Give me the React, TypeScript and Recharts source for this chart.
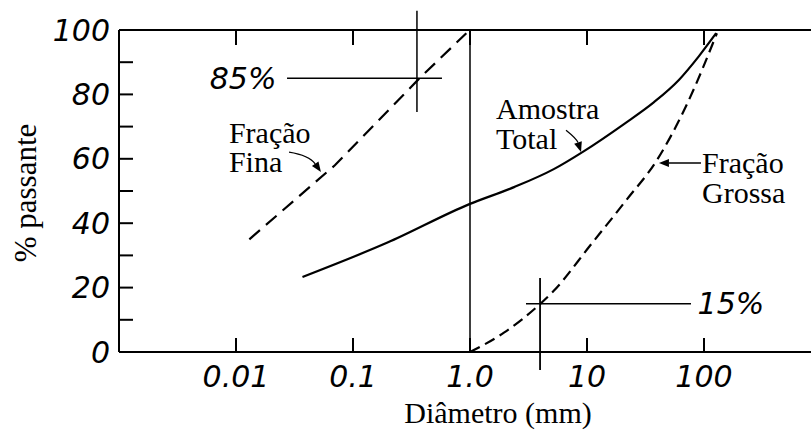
import { LineChart, Line, XAxis, YAxis, ReferenceLine, ReferenceDot } from 'recharts'

// axis ticks
const decadeTicks = [0.01, 0.1, 1, 10, 100]
const decadeLabels = ['0.01', '0.1', '1.0', '10', '100']
const percentTicks = [0, 10, 20, 30, 40, 50, 60, 70, 80, 90, 100]

// curves (diameter in mm, % passing)
const finaD = [0.013, 0.07, 0.37, 0.93]
const finaP = [35, 58, 85, 99]
const totalD = [0.037, 0.195, 1.0, 2.38, 5.2, 9.43, 20.7, 37.4, 61, 90.6, 127]
const totalP = [23.3, 33.9, 46, 51.2, 56.8, 62.4, 70.8, 77.6, 84.5, 91.9, 99]
const grossaD = [1.0, 1.95, 4.0, 5.2, 10.6, 21.5, 39.6, 71.6, 129]
const grossaP = [0, 6, 15, 19, 33, 47, 59.6, 77, 99]

const toRows = (d: number[], p: number[]) => d.map((v, i) => ({ d: v, p: p[i] }))
const fina = toRows(finaD, finaP)
const total = toRows(totalD, totalP)
const grossa = toRows(grossaD, grossaP)

const ink = '#000'
const hand = { fontFamily: '"DejaVu Sans", sans-serif', fontStyle: 'italic', fontSize: 30, fill: ink }
const serif = { fontFamily: '"Liberation Serif", "Times New Roman", serif', fontSize: 30, fill: ink }

const LeftTick = (props: any) => {
  const { x, y, payload } = props
  const v = payload.value
  return (
    <g>
      <line x1={x} y1={y} x2={x + 14} y2={y} stroke={ink} strokeWidth={2} />
      {v % 20 === 0 && (
        <text x={x - 9} y={y} textAnchor="end" dominantBaseline="central" style={hand}>{v}</text>
      )}
    </g>
  )
}

const RightTick = (props: any) => {
  const { x, y } = props
  return <line x1={x} y1={y} x2={x - 16} y2={y} stroke={ink} strokeWidth={2} />
}

const BottomTick = (props: any) => {
  const { x, y, payload } = props
  const i = decadeTicks.indexOf(payload.value)
  return (
    <g>
      <line x1={x} y1={y} x2={x} y2={y - 14} stroke={ink} strokeWidth={2} />
      <text x={x} y={y + 24} textAnchor="middle" dominantBaseline="central" style={hand}>{decadeLabels[i]}</text>
    </g>
  )
}

const TopTick = (props: any) => {
  const { x, y } = props
  return <line x1={x} y1={y} x2={x} y2={y + 15} stroke={ink} strokeWidth={2} />
}

// small arrow from label to curve, optionally bent
const arrow = (bend: number) => (p: any) => {
  const { x1, y1, x2, y2 } = p
  const dx = x2 - x1, dy = y2 - y1
  const len = Math.hypot(dx, dy) || 1
  const cx = (x1 + x2) / 2 - (dy / len) * bend
  const cy = (y1 + y2) / 2 + (dx / len) * bend
  const el = Math.hypot(x2 - cx, y2 - cy) || 1
  const ux = (x2 - cx) / el, uy = (y2 - cy) / el
  const bx = x2 - ux * 10, by = y2 - uy * 10
  return (
    <g>
      <path d={`M${x1},${y1}Q${cx},${cy} ${bx},${by}`} fill="none" stroke={ink} strokeWidth={1.3} />
      <path d={`M${x2},${y2}L${bx - uy * 4},${by + ux * 4}L${bx + uy * 4},${by - ux * 4}Z`} fill={ink} />
    </g>
  )
}

const note = (lines: string[], gap: number) => (p: any) => (
  <text x={p.cx} y={p.cy} style={serif}>
    {lines.map((t, i) => (
      <tspan key={i} x={p.cx} dy={i === 0 ? 0 : gap}>{t}</tspan>
    ))}
  </text>
)

const mark = (t: string) => (p: any) => (
  <text x={p.cx} y={p.cy} textAnchor="middle" dominantBaseline="central" style={hand}>{t}</text>
)

export default function App() {
  return (
    <div style={{ position: 'absolute', left: 0, top: 0, width: 811, height: 432, overflow: 'hidden', background: '#fff' }}>
      <LineChart width={830} height={432} margin={{ top: 29, right: 8, bottom: 79, left: 118 }}>
        <XAxis
          dataKey="d"
          type="number"
          scale="log"
          domain={[0.001, 1000]}
          allowDataOverflow
          ticks={decadeTicks}
          interval={0}
          height={1}
          tickSize={0}
          tickMargin={0}
          tick={<BottomTick />}
          axisLine={{ stroke: ink, strokeWidth: 2 }}
        />
        <XAxis
          xAxisId="top"
          orientation="top"
          dataKey="d"
          type="number"
          scale="log"
          domain={[0.001, 1000]}
          allowDataOverflow
          ticks={decadeTicks}
          interval={0}
          height={1}
          tickSize={0}
          tickMargin={0}
          tick={<TopTick />}
          axisLine={{ stroke: ink, strokeWidth: 2 }}
        />
        <YAxis
          type="number"
          domain={[0, 100]}
          ticks={percentTicks}
          interval={0}
          width={1}
          tickSize={0}
          tickMargin={0}
          tick={<LeftTick />}
          axisLine={{ stroke: ink, strokeWidth: 2 }}
        />
        <YAxis
          yAxisId="right"
          orientation="right"
          type="number"
          domain={[0, 100]}
          ticks={percentTicks}
          interval={0}
          width={1}
          tickSize={0}
          tickMargin={0}
          tick={<RightTick />}
          axisLine={{ stroke: ink, strokeWidth: 2 }}
        />

        <ReferenceLine x={1} stroke={ink} strokeWidth={1.5} />
        <ReferenceLine segment={[{ x: 0.0273, y: 85 }, { x: 0.576, y: 85 }]} stroke={ink} strokeWidth={1.5} ifOverflow="visible" />
        <ReferenceLine segment={[{ x: 0.352, y: 106 }, { x: 0.352, y: 74.5 }]} stroke={ink} strokeWidth={1.5} ifOverflow="visible" />
        <ReferenceLine segment={[{ x: 3.01, y: 15 }, { x: 77.4, y: 15 }]} stroke={ink} strokeWidth={1.5} ifOverflow="visible" />
        <ReferenceLine segment={[{ x: 3.97, y: 23 }, { x: 3.97, y: -5.6 }]} stroke={ink} strokeWidth={1.8} ifOverflow="visible" />

        <Line data={fina} dataKey="p" type="linear" stroke={ink} strokeWidth={2.2} strokeDasharray="14 8" dot={false} activeDot={false} isAnimationActive={false} />
        <Line data={total} dataKey="p" type="monotone" stroke={ink} strokeWidth={2.2} dot={false} activeDot={false} isAnimationActive={false} />
        <Line data={grossa} dataKey="p" type="monotone" stroke={ink} strokeWidth={2.2} strokeDasharray="11 6" dot={false} activeDot={false} isAnimationActive={false} />

        <ReferenceLine segment={[{ x: 0.0284, y: 62.1 }, { x: 0.0532, y: 55.9 }]} ifOverflow="visible" shape={arrow(-8)} />
        <ReferenceLine segment={[{ x: 6.62, y: 68.9 }, { x: 8.89, y: 62.1 }]} ifOverflow="visible" shape={arrow(-4)} />
        <ReferenceLine segment={[{ x: 94.2, y: 58.7 }, { x: 41.2, y: 58.7 }]} ifOverflow="visible" shape={arrow(0)} />

        <ReferenceDot x={0.0087} y={64.9} r={0} ifOverflow="visible" shape={note(['Fração', 'Fina'], 29)} />
        <ReferenceDot x={1.67} y={72.4} r={0} ifOverflow="visible" shape={note(['Amostra', 'Total'], 30)} />
        <ReferenceDot x={96.2} y={55.6} r={0} ifOverflow="visible" shape={note(['Fração', 'Grossa'], 30)} />
        <ReferenceDot x={0.0115} y={84.8} r={0} ifOverflow="visible" shape={mark('85%')} />
        <ReferenceDot x={170} y={15.2} r={0} ifOverflow="visible" shape={mark('15%')} />

        <text x={498} y={423} textAnchor="middle" style={serif}>Diâmetro (mm)</text>
        <text x={0} y={0} transform="translate(36,193) rotate(-90)" textAnchor="middle" style={{ ...serif, fontSize: 31 }}>% passante</text>
      </LineChart>
    </div>
  )
}
